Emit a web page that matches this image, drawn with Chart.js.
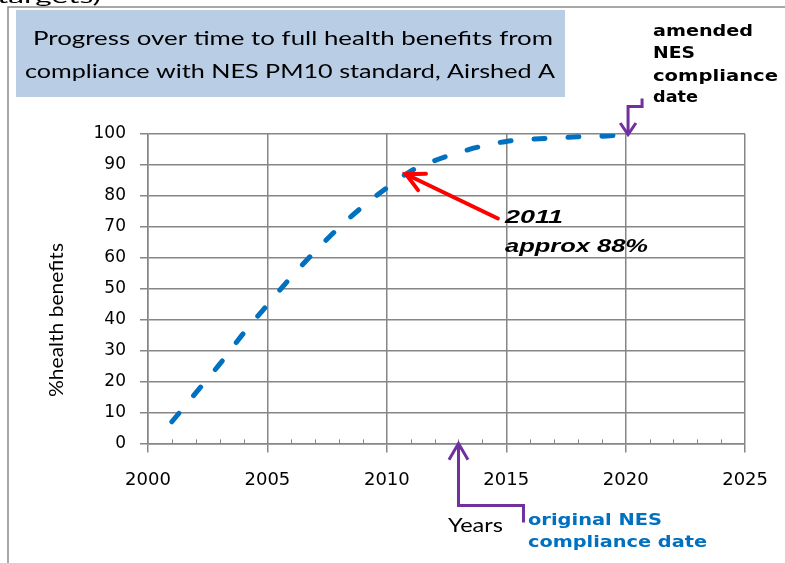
<!DOCTYPE html>
<html>
<head>
<meta charset="utf-8">
<title>Progress over time to full health benefits</title>
<script src="https://cdn.jsdelivr.net/npm/chart.js"></script>
<style>
  html, body { margin: 0; padding: 0; background: #fff; }
  canvas { display: block; }
</style>
</head>
<body>
<canvas id="benefitsChart" width="785" height="563"></canvas>
<script>
// values
const years = [2001, 2002, 2003, 2004, 2005, 2006, 2007, 2008, 2009, 2010,
               2011, 2012, 2013, 2014, 2015, 2016, 2017, 2018, 2019, 2020];
const benefitPct = [7, 16.3, 25.6, 35.6, 44.8, 53.8, 62.1, 69.8, 76.6, 82.6,
                    88, 91.4, 94, 96.1, 97.6, 98.3, 98.7, 99.1, 99.3, 99.8];
const xTickYears = [2000, 2005, 2010, 2015, 2020, 2025];
const yTickValues = [0, 10, 20, 30, 40, 50, 60, 70, 80, 90, 100];

const titleLines = ['Progress over time to full health benefits from',
                    'compliance with NES PM10 standard, Airshed A'];
const amendedNote = ['amended', 'NES', 'compliance', 'date'];
const originalNote = ['original NES', 'compliance date'];
const callout = ['2011', 'approx 88%'];

const GRID = '#868686';
const PURPLE = '#7030A0';
const BLUE = '#0070C0';

// draw text squeezed/stretched to a given width (the source image is stretched sideways)
function fitText(ctx, text, x, y, font, width, color) {
  ctx.save();
  ctx.font = font;
  ctx.fillStyle = color;
  ctx.textAlign = 'left';
  ctx.textBaseline = 'alphabetic';
  const w = ctx.measureText(text).width;
  ctx.translate(x, y);
  ctx.scale(width / w, 1);
  ctx.fillText(text, 0, 0);
  ctx.restore();
}

function arrowHead(ctx, tipX, tipY, fromX, fromY, len, spread) {
  const a = Math.atan2(fromY - tipY, fromX - tipX);
  ctx.beginPath();
  ctx.moveTo(tipX + len * Math.cos(a + spread), tipY + len * Math.sin(a + spread));
  ctx.lineTo(tipX, tipY);
  ctx.lineTo(tipX + len * Math.cos(a - spread), tipY + len * Math.sin(a - spread));
  ctx.stroke();
}

const decorations = {
  id: 'decorations',
  beforeDraw(chart) {
    const ctx = chart.ctx;
    ctx.save();
    // frame of the slide
    ctx.strokeStyle = '#8a8a8a';
    ctx.lineWidth = 1.5;
    ctx.beginPath();
    ctx.moveTo(8, 563);
    ctx.lineTo(8, 7);
    ctx.lineTo(785, 7);
    ctx.stroke();
    // title box
    ctx.fillStyle = '#B9CDE5';
    ctx.fillRect(16, 10, 549, 87);
    ctx.restore();
    fitText(ctx, 'targets)', -3, 3, '18px Lato', 104, '#000');
    fitText(ctx, titleLines[0], 33, 45, '18.5px Lato', 520, '#000');
    fitText(ctx, titleLines[1], 25, 78, '18.5px Lato', 530, '#000');
  },
  afterDraw(chart) {
    const ctx = chart.ctx;
    const xs = chart.scales.x, ys = chart.scales.y;
    const area = chart.chartArea;

    // minor year ticks on the x axis
    ctx.save();
    ctx.strokeStyle = GRID;
    ctx.lineWidth = 1;
    for (let yr = xs.min + 1; yr < xs.max; yr++) {
      if (yr % 5 === 0) continue;
      const px = Math.round(xs.getPixelForValue(yr)) + 0.5;
      ctx.beginPath();
      ctx.moveTo(px, area.bottom);
      ctx.lineTo(px, area.bottom - 4);
      ctx.stroke();
    }
    ctx.restore();

    // axis titles
    ctx.save();
    ctx.translate(63, 397);
    ctx.rotate(-Math.PI / 2);
    fitText(ctx, '%health benefits', 0, 0, '19px Lato', 154, '#000');
    ctx.restore();
    fitText(ctx, 'Years', 448, 531.5, '20px Lato', 55, '#000');

    // red callout arrow pointing at 2011
    ctx.save();
    ctx.strokeStyle = '#FF0000';
    ctx.lineWidth = 4;
    ctx.lineCap = 'round';
    const tipX = xs.getPixelForValue(2010.8), tipY = ys.getPixelForValue(87);
    const tailX = xs.getPixelForValue(2014.65), tailY = ys.getPixelForValue(72.7);
    ctx.beginPath();
    ctx.moveTo(tailX, tailY);
    ctx.lineTo(tipX, tipY);
    ctx.stroke();
    arrowHead(ctx, tipX, tipY, tailX, tailY, 20, 27 * Math.PI / 180);
    ctx.restore();
    fitText(ctx, callout[0], 505, 223, 'italic bold 18px "Liberation Sans"', 58, '#000');
    fitText(ctx, callout[1], 505, 251.5, 'italic bold 18px "Liberation Sans"', 143, '#000');

    // purple arrow: amended compliance date (2020)
    ctx.save();
    ctx.strokeStyle = PURPLE;
    ctx.lineWidth = 3;
    const aX = xs.getPixelForValue(2020.1), aY = ys.getPixelForValue(99.8);
    ctx.beginPath();
    ctx.moveTo(aX + 14, aY - 36);
    ctx.lineTo(aX + 14, aY - 28);
    ctx.lineTo(aX, aY - 28);
    ctx.lineTo(aX, aY);
    ctx.stroke();
    arrowHead(ctx, aX, aY, aX, aY - 20, 14, 34 * Math.PI / 180);

    // purple arrow: original compliance date (2013)
    const oX = xs.getPixelForValue(2013), oY = ys.getPixelForValue(0);
    ctx.beginPath();
    ctx.moveTo(oX, oY);
    ctx.lineTo(oX, oY + 62);
    ctx.lineTo(oX + 65, oY + 62);
    ctx.lineTo(oX + 65, oY + 79);
    ctx.stroke();
    arrowHead(ctx, oX, oY, oX, oY + 20, 19, 30 * Math.PI / 180);
    ctx.restore();

    // notes
    const bold15 = 'bold 15px "DejaVu Sans"';
    fitText(ctx, amendedNote[0], 653, 36, bold15, 100, '#000');
    fitText(ctx, amendedNote[1], 653, 58, bold15, 42, '#000');
    fitText(ctx, amendedNote[2], 653, 80.5, bold15, 125, '#000');
    fitText(ctx, amendedNote[3], 653, 102, bold15, 45, '#000');
    const bold16 = 'bold 16px "DejaVu Sans"';
    fitText(ctx, originalNote[0], 528, 525, bold16, 134, BLUE);
    fitText(ctx, originalNote[1], 528, 546.5, bold16, 179, BLUE);
  }
};

new Chart(document.getElementById('benefitsChart'), {
  type: 'line',
  data: {
    datasets: [{
      label: '%health benefits',
      data: years.map((yr, i) => ({ x: yr, y: benefitPct[i] })),
      borderColor: BLUE,
      borderWidth: 5,
      borderDash: [11, 23],
      borderCapStyle: 'round',
      pointRadius: 0,
      fill: false,
      cubicInterpolationMode: 'monotone'
    }]
  },
  options: {
    responsive: false,
    animation: false,
    layout: { padding: { top: 134, right: 38, bottom: 55, left: 0 } },
    plugins: { legend: { display: false }, tooltip: { enabled: false } },
    scales: {
      x: {
        type: 'linear',
        min: xTickYears[0],
        max: xTickYears[xTickYears.length - 1],
        afterBuildTicks: s => { s.ticks = xTickYears.map(v => ({ value: v })); },
        ticks: {
          callback: v => String(v),
          color: '#000',
          padding: 17,
          maxRotation: 0,
          font: { family: 'DejaVu Sans', size: 18 }
        },
        grid: { color: GRID, lineWidth: 1.5, tickLength: 9, tickColor: GRID },
        border: { color: GRID, width: 1.5 }
      },
      y: {
        min: 0,
        max: 100,
        afterBuildTicks: s => { s.ticks = yTickValues.map(v => ({ value: v })); },
        afterFit: s => { s.width = 148; },
        ticks: {
          color: '#000',
          padding: 14,
          font: { family: 'DejaVu Sans', size: 17 }
        },
        grid: { color: GRID, lineWidth: 1.5, tickLength: 8, tickColor: GRID },
        border: { color: GRID, width: 1.5 }
      }
    }
  },
  plugins: [decorations]
});
</script>
</body>
</html>
